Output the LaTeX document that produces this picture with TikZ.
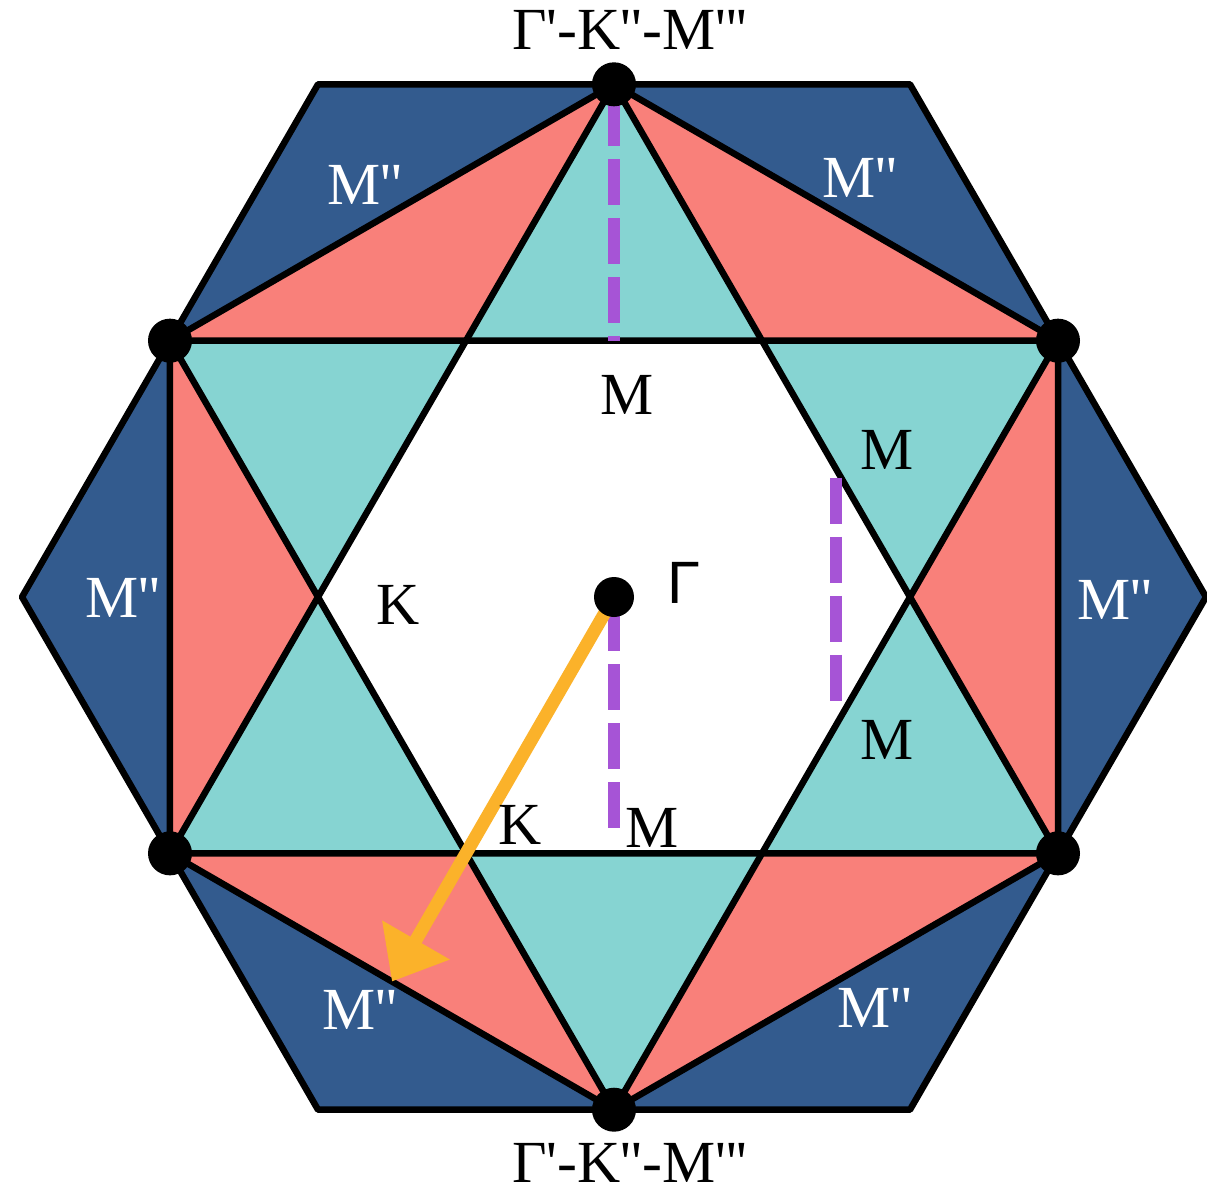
\documentclass[tikz,border=0pt]{standalone}
\usepackage{fontspec}
\setmainfont{Liberation Serif}
\newfontfamily\gammafont{Liberation Sans}
\usetikzlibrary{arrows.meta,calc}

% primas rectas
\newcommand{\pr}{\textquotesingle}

\begin{document}
\begin{tikzpicture}[line join=round]
		% Definición de colores
		\definecolor{zonablue}{RGB}{51, 91, 142}   % Azul oscuro exterior
		\definecolor{zonapink}{RGB}{249, 128, 122} % Rosado
		\definecolor{zonacyan}{RGB}{134, 212, 210} % Turquesa de la estrella
		\definecolor{pathpurple}{RGB}{166, 84, 214} % Lineas discontinuas
		\definecolor{arroworange}{RGB}{251, 178, 42} % Flecha
		
		\tikzset{
			edge/.style={draw=black, line width=0.65mm},
			bzdash/.style={pathpurple, line width=1.2mm, dash pattern=on 4.6mm off 1.3mm},
			bzarrow/.style={arroworange, line width=1.3mm, -{Triangle[length=4.8mm, width=7.5mm]}},
			lbl/.style={font=\fontsize{17}{20}\selectfont, inner sep=0pt},
			whitelbl/.style={lbl, text=white}
		}
		
		\def\R{2.96} % Distancia Gamma-K
		\useasboundingbox (-6.14,-5.97) rectangle (5.93,5.97);
		
		% --- Puntos de la red ---
		\coordinate (G) at (0,0);
		\foreach \i in {0,...,5} {
			\coordinate (K\i) at (60*\i:\R);               % hexagono interior
			\coordinate (V\i) at (30+60*\i:{\R*sqrt(3)});  % puntos negros
			\coordinate (C\i) at (60*\i:{2*\R});           % hexagono exterior
		}
		\coordinate (M0) at ($(K0)!0.5!(K1)$);
		\coordinate (M1) at ($(K1)!0.5!(K2)$);
		\coordinate (M4) at ($(K4)!0.5!(K5)$);
		\coordinate (M5) at ($(K5)!0.5!(K0)$);
		\coordinate (Mpp) at ($(V3)!0.5!(V4)$);
		
		% --- Regiones ---
		\fill[zonablue] (C0) -- (C1) -- (C2) -- (C3) -- (C4) -- (C5) -- cycle;
		\fill[zonapink] (V0) -- (V1) -- (V2) -- (V3) -- (V4) -- (V5) -- cycle;
		\fill[zonacyan] (V1) -- (V3) -- (V5) -- cycle;
		\fill[zonacyan] (V0) -- (V2) -- (V4) -- cycle;
		\fill[white] (K0) -- (K1) -- (K2) -- (K3) -- (K4) -- (K5) -- cycle;
		
		% --- Contornos ---
		\draw[edge] (C0) -- (C1) -- (C2) -- (C3) -- (C4) -- (C5) -- cycle;
		\draw[edge] (V0) -- (V1) -- (V2) -- (V3) -- (V4) -- (V5) -- cycle;
		\draw[edge] (V1) -- (V3) -- (V5) -- cycle;
		\draw[edge] (V0) -- (V2) -- (V4) -- cycle;
		
		% --- Caminos ---
		\draw[bzdash, shorten <=1.6mm] (V1) -- (M1);
		\draw[bzdash, shorten <=0.8mm, shorten >=1.3mm] (G) -- (M4);
		\draw[bzdash, shorten <=0.9mm, shorten >=1.3mm] (M0) -- (M5);
		\draw[bzarrow] (G) -- (Mpp);
		
		% --- Puntos ---
		\foreach \i in {0,...,5}
			\fill (V\i) circle (2.2mm);
		\fill (G) circle (2mm);
		
		% --- Etiquetas ---
		\node[lbl] (top) at (0.16, 5.67) {Γ\pr-K\pr\pr-M\pr\pr\pr};
		\node[lbl] (bottom) at (0.16, -5.66) {Γ\pr-K\pr\pr-M\pr\pr\pr};
		\node[lbl] (gamma) at (0.70, 0.14) {\gammafont Γ};
		\node[lbl] (mtop) at (0.13, 2.02) {M};
		\node[lbl] (mru) at (2.73, 1.47) {M};
		\node[lbl] (mrd) at (2.73, -1.43) {M};
		\node[lbl] (mbot) at (0.38, -2.31) {M};
		\node[lbl] (kleft) at (-2.16, -0.08) {K};
		\node[lbl] (kbot) at (-0.94, -2.28) {K};
		\node[whitelbl] (mpp1) at (-2.49, 4.12) {M\pr\pr};
		\node[whitelbl] (mpp2) at (2.46, 4.19) {M\pr\pr};
		\node[whitelbl] (mpp3) at (-4.91, -0.01) {M\pr\pr};
		\node[whitelbl] (mpp4) at (5.01, -0.03) {M\pr\pr};
		\node[whitelbl] (mpp5) at (-2.54, -4.13) {M\pr\pr};
		\node[whitelbl] (mpp6) at (2.61, -4.11) {M\pr\pr};
		
\end{tikzpicture}
\end{document}
